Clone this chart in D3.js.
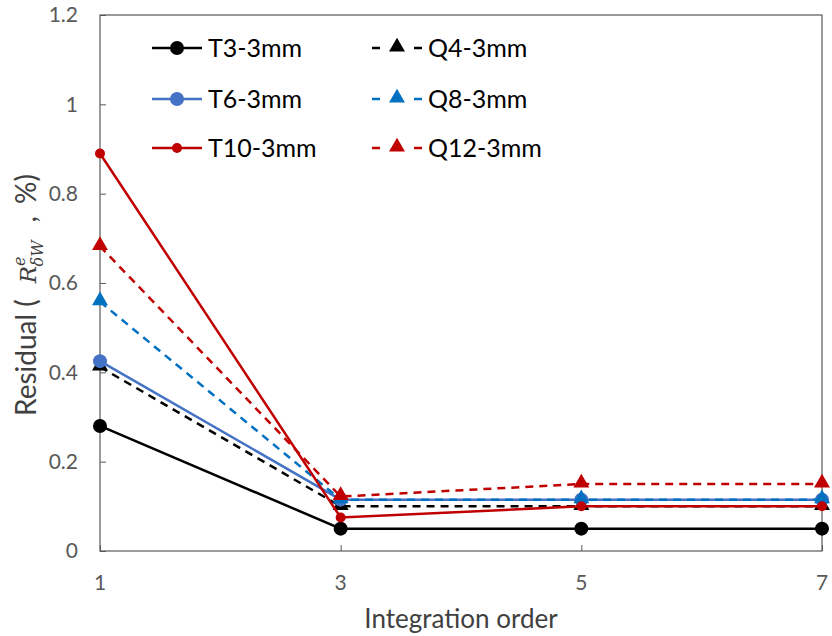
<!DOCTYPE html>
<html>
<head>
<meta charset="utf-8">
<script src="https://cdn.jsdelivr.net/npm/d3@7"></script>
<style>
body { margin: 0; background: #fff; }
svg { font-family: Lato, "Open Sans", sans-serif; }
</style>
</head>
<body>
<svg id="chart" width="832" height="636"></svg>
<script>
// data
var orders = [1, 3, 5, 7];
var yTicks = [0, 0.2, 0.4, 0.6, 0.8, 1, 1.2];
var t3 = [0.28, 0.05, 0.05, 0.05];
var t6 = [0.425, 0.115, 0.115, 0.115];
var t10 = [0.89, 0.075, 0.10, 0.10];
var q4 = [0.412, 0.10, 0.10, 0.10];
var q8 = [0.558, 0.115, 0.115, 0.115];
var q12 = [0.682, 0.122, 0.15, 0.15];

var series = [
  { name: "T3-3mm", values: t3, color: "#000000", dash: null, marker: "circle", size: 7 },
  { name: "T6-3mm", values: t6, color: "#4472C4", dash: null, marker: "circle", size: 7 },
  { name: "T10-3mm", values: t10, color: "#C00000", dash: null, marker: "circle", size: 5 },
  { name: "Q4-3mm", values: q4, color: "#000000", dash: "8,6", marker: "triangle", size: 7 },
  { name: "Q8-3mm", values: q8, color: "#0070C0", dash: "8,6", marker: "triangle", size: 7 },
  { name: "Q12-3mm", values: q12, color: "#C00000", dash: "8,6", marker: "triangle", size: 7 }
];

(function() {
var svg = d3.select("#chart");
var pLeft = 100, pRight = 822, pTop = 15, pBottom = 551;

var x = d3.scaleLinear().domain([1, 7]).range([pLeft, pRight]);
var y = d3.scaleLinear().domain([0, 1.2]).range([pBottom, pTop]);

// plot border
svg.append("rect")
  .attr("x", pLeft).attr("y", pTop)
  .attr("width", pRight - pLeft).attr("height", pBottom - pTop)
  .attr("fill", "none").attr("stroke", "#595959").attr("stroke-width", 1.2);

// y axis (ticks inside)
var yAxis = svg.append("g").attr("transform", "translate(" + pLeft + ",0)")
  .call(d3.axisRight(y).tickValues(yTicks).tickSize(6).tickFormat(""));
yAxis.select(".domain").remove();
yAxis.selectAll("line").attr("stroke", "#595959");

svg.selectAll(".ylab").data(yTicks).enter().append("text")
  .attr("x", pLeft - 22).attr("y", function(d) { return y(d); })
  .attr("dy", "0.35em").attr("text-anchor", "end")
  .attr("font-size", 21).attr("fill", "#595959")
  .text(function(d) { return d; });

// x axis (ticks inside)
var xAxis = svg.append("g").attr("transform", "translate(0," + pBottom + ")")
  .call(d3.axisTop(x).tickValues(orders).tickSize(6).tickFormat(""));
xAxis.select(".domain").remove();
xAxis.selectAll("line").attr("stroke", "#595959");

svg.selectAll(".xlab").data(orders).enter().append("text")
  .attr("x", function(d) { return x(d); }).attr("y", 590)
  .attr("text-anchor", "middle")
  .attr("font-size", 21).attr("fill", "#595959")
  .text(function(d) { return d; });

svg.append("text")
  .attr("x", (pLeft + pRight) / 2).attr("y", 628)
  .attr("text-anchor", "middle").attr("font-size", 26).attr("fill", "#404040")
  .text("Integration order");

// y title with R^e_{δW}
var yt = svg.append("text")
  .attr("transform", "translate(36,416) rotate(-90)")
  .attr("text-anchor", "start").attr("font-size", 28).attr("fill", "#404040");
yt.append("tspan").text("Residual (");
yt.append("tspan").attr("dx", 16).attr("font-family", "DejaVu Serif").attr("font-style", "italic").attr("font-size", 23).text("R");
yt.append("tspan").attr("font-family", "DejaVu Serif").attr("font-style", "italic").attr("font-size", 16).attr("dy", -11).text("e");
yt.append("tspan").attr("font-family", "DejaVu Serif").attr("font-style", "italic").attr("font-size", 16).attr("dx", -10).attr("dy", 18).text("δW");
yt.append("tspan").attr("dx", 18).attr("dy", -7).text(",");
yt.append("tspan").attr("dx", 12).text("%)");

var line = d3.line()
  .x(function(d, i) { return x(orders[i]); })
  .y(function(d) { return y(d); });

var tri = d3.symbol().type(d3.symbolTriangle);

function drawMarker(g, s, cx, cy) {
  if (s.marker === "circle") {
    g.append("circle").attr("cx", cx).attr("cy", cy).attr("r", s.size).attr("fill", s.color);
  } else {
    g.append("path").attr("d", tri.size(110)())
      .attr("transform", "translate(" + cx + "," + (cy - 1) + ")")
      .attr("fill", s.color);
  }
}

// draw order: like the picture (red on top)
var drawOrder = [0, 3, 1, 4, 2, 5];
drawOrder.forEach(function(k) {
  var s = series[k];
  var g = svg.append("g");
  g.append("path").datum(s.values).attr("d", line)
    .attr("fill", "none").attr("stroke", s.color).attr("stroke-width", 2.5)
    .attr("stroke-dasharray", s.dash);
  s.values.forEach(function(v, i) { drawMarker(g, s, x(orders[i]), y(v)); });
});

// legend
var rows = [48, 99, 148];
series.forEach(function(s, i) {
  var col = i < 3 ? 0 : 1;
  var ry = rows[i % 3];
  var g = svg.append("g");
  if (col === 0) {
    g.append("line").attr("x1", 152).attr("x2", 202).attr("y1", ry).attr("y2", ry)
      .attr("stroke", s.color).attr("stroke-width", 2.5);
    drawMarker(g, s, 177, ry);
    g.append("text").attr("x", 208).attr("y", ry).attr("dy", "0.35em")
      .attr("font-size", 25).attr("fill", "#000").text(s.name);
  } else {
    g.append("line").attr("x1", 372).attr("x2", 380).attr("y1", ry).attr("y2", ry)
      .attr("stroke", s.color).attr("stroke-width", 2.5);
    g.append("line").attr("x1", 414).attr("x2", 422).attr("y1", ry).attr("y2", ry)
      .attr("stroke", s.color).attr("stroke-width", 2.5);
    drawMarker(g, s, 397, ry);
    g.append("text").attr("x", 428).attr("y", ry).attr("dy", "0.35em")
      .attr("font-size", 25).attr("fill", "#000").text(s.name);
  }
});
})();
</script>
</body>
</html>
